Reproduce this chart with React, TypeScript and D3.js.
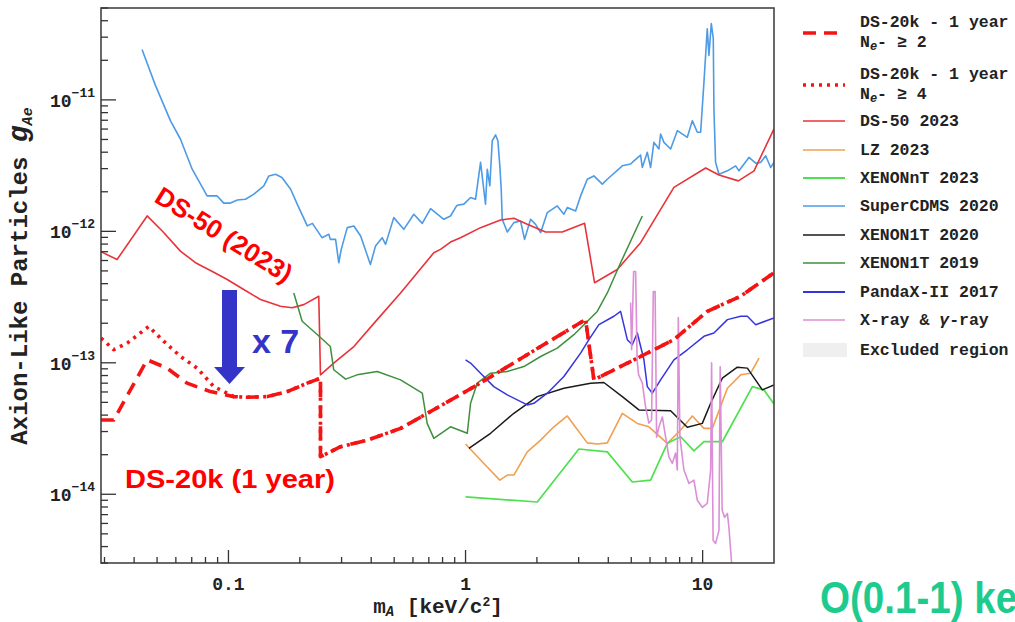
import React from 'react';
import * as d3 from 'd3';

type Pt = [number, number];

// ---------- axis ticks ----------
const xTickValues = [0.1, 1, 10];
const xTickLabels = ['0.1', '1', '10'];
const yTickExponents = [-11, -12, -13, -14];

// ---------- series (m_A [keV], g_Ae) ----------
const ds20kNe2: Pt[] = [
  [0.029, 3.67e-14], [0.0328, 3.67e-14], [0.0454, 1.054e-13], [0.0551, 9.11e-14], [0.0669, 7.0e-14],
  [0.0839, 6.04e-14], [0.1053, 5.53e-14], [0.12, 5.47e-14], [0.1456, 5.53e-14], [0.1769, 6.04e-14],
  [0.215, 7.0e-14], [0.2444, 7.64e-14], [0.2444, 1.93e-14], [0.297, 2.3e-14], [0.385, 2.58e-14],
  [0.532, 3.17e-14], [0.784, 4.7e-14], [1.084, 6.56e-14], [1.5, 9.32e-14], [2.073, 1.33e-13],
  [3.209, 2.13e-13], [3.478, 7.42e-14], [3.962, 8.34e-14], [5.475, 1.117e-13], [7.566, 1.5e-13],
  [10.46, 2.46e-13], [14.47, 3.21e-13], [20, 4.84e-13],
];

const ds20kNe4: Pt[] = [
  [0.029, 1.54e-13], [0.0328, 1.26e-13], [0.0374, 1.41e-13], [0.0461, 1.89e-13], [0.0533, 1.46e-13],
  [0.0627, 1.12e-13], [0.0738, 9.1e-14], [0.0867, 6.6e-14], [0.1053, 5.53e-14], [0.12, 5.47e-14],
  [0.1456, 5.53e-14], [0.1769, 6.04e-14], [0.215, 7.0e-14], [0.2444, 7.64e-14], [0.2444, 1.93e-14],
  [0.297, 2.3e-14], [0.385, 2.58e-14], [0.532, 3.17e-14], [0.784, 4.7e-14], [1.084, 6.56e-14],
  [1.5, 9.32e-14], [2.073, 1.33e-13], [3.209, 2.13e-13], [3.478, 7.42e-14], [3.962, 8.34e-14],
  [5.475, 1.117e-13], [7.566, 1.5e-13], [10.46, 2.46e-13], [14.47, 3.21e-13], [20, 4.84e-13],
];

const ds50: Pt[] = [
  [0.029, 7.0e-13], [0.0339, 6.1e-13], [0.0454, 1.31e-12], [0.0533, 9.8e-13], [0.0627, 7.07e-13],
  [0.0726, 5.77e-13], [0.0867, 4.89e-13], [0.0988, 4.3e-13], [0.116, 3.61e-13], [0.1365, 3.03e-13],
  [0.1657, 2.69e-13], [0.1857, 2.62e-13], [0.2078, 2.77e-13], [0.2404, 3.21e-13], [0.2444, 8.1e-14],
  [0.278, 9.95e-14], [0.338, 1.33e-13], [0.424, 2.13e-13], [0.532, 3.4e-13], [0.735, 6.88e-13],
  [0.784, 7.29e-13], [0.864, 8.29e-13], [0.952, 8.95e-13], [1.157, 1.067e-12], [1.405, 1.22e-12],
  [1.599, 1.257e-12], [1.821, 1.131e-12], [2.176, 9.88e-13], [2.559, 9.88e-13], [3.178, 1.15e-12],
  [3.502, 4.06e-13], [4.366, 5.13e-13], [5.475, 8.2e-13], [7.566, 2.16e-12], [10.3, 3.03e-12],
  [11.72, 2.68e-12], [14.15, 2.42e-12], [16.47, 2.886e-12], [20, 6.01e-12],
];

const lz2023: Pt[] = [
  [1.0, 2.41e-14], [1.195, 1.715e-14], [1.395, 1.28e-14], [1.5, 1.4e-14], [1.599, 1.4e-14],
  [1.821, 2.1e-14], [2.073, 2.58e-14], [2.359, 3.26e-14], [2.686, 3.94e-14], [2.864, 3.36e-14],
  [3.262, 2.46e-14], [3.594, 2.41e-14], [3.962, 2.46e-14], [4.584, 4.13e-14], [5.303, 3.46e-14],
  [5.934, 3.26e-14], [7.097, 2.44e-14], [8.076, 3.08e-14], [9.047, 3.94e-14], [10.13, 3.17e-14],
  [10.99, 3.17e-14], [12.72, 6.41e-14], [14.47, 8.1e-14], [15.94, 8.34e-14], [17.29, 1.086e-13],
];

const xenonNT2023: Pt[] = [
  [1.0, 9.54e-15], [2.007, 8.73e-15], [3.006, 2.21e-14], [3.962, 2.1e-14], [5.05, 1.24e-14],
  [6.034, 1.28e-14], [7.097, 2.44e-14], [8.076, 2.74e-14], [9.19, 2.14e-14], [10.13, 2.51e-14],
  [12.11, 2.51e-14], [16.21, 6.59e-14], [18.14, 6.22e-14], [20, 4.86e-14],
];

const superCDMS2020: Pt[] = [
  [0.0432, 2.42e-11], [0.0492, 1.29e-11], [0.0569, 6.95e-12], [0.0627, 5.04e-12], [0.0703, 2.97e-12],
  [0.0813, 1.86e-12], [0.0896, 1.86e-12], [0.0955, 1.64e-12], [0.102, 1.64e-12], [0.109, 1.73e-12],
  [0.118, 1.755e-12], [0.128, 1.92e-12], [0.141, 2.22e-12], [0.148, 2.64e-12], [0.158, 2.72e-12],
  [0.168, 2.57e-12], [0.183, 2.09e-12], [0.195, 1.61e-12], [0.215, 1.1e-12], [0.226, 1.15e-12],
  [0.248, 8.95e-13], [0.265, 9.49e-13], [0.269, 8.69e-13], [0.283, 8.69e-13], [0.292, 5.77e-13],
  [0.299, 7.29e-13], [0.317, 1.067e-12], [0.338, 1.098e-12], [0.361, 9.21e-13], [0.397, 5.6e-13],
  [0.417, 7.72e-13], [0.445, 8.95e-13], [0.46, 7.96e-13], [0.498, 1.272e-12], [0.549, 1.036e-12],
  [0.605, 1.349e-12], [0.657, 1.15e-12], [0.712, 1.49e-12], [0.81, 1.235e-12], [0.864, 1.309e-12],
  [0.907, 1.517e-12], [0.923, 1.58e-12], [0.984, 1.61e-12], [1.05, 1.808e-12], [1.102, 1.755e-12],
  [1.157, 3.345e-12], [1.214, 1.61e-12], [1.235, 2.97e-12], [1.266, 2.22e-12], [1.296, 4.89e-12],
  [1.339, 5.41e-12], [1.369, 4.89e-12], [1.395, 3.15e-12], [1.414, 2.09e-12], [1.428, 1.235e-12],
  [1.5, 9.88e-13], [1.599, 1.165e-12], [1.706, 1.198e-12], [1.774, 8.69e-13], [1.881, 1.235e-12],
  [1.974, 1.131e-12], [2.073, 9.77e-13], [2.212, 1.389e-12], [2.437, 1.56e-12], [2.599, 1.349e-12],
  [2.686, 1.517e-12], [2.912, 1.429e-12], [3.057, 1.86e-12], [3.262, 2.49e-12], [3.478, 2.64e-12],
  [3.774, 2.285e-12], [3.962, 2.49e-12], [4.584, 3.15e-12], [4.968, 3.25e-12], [5.13, 3.44e-12],
  [5.475, 3.8e-12], [5.566, 3.06e-12], [5.843, 3.99e-12], [6.034, 3.06e-12], [6.23, 4.75e-12],
  [6.54, 4.23e-12], [6.649, 5.5e-12], [6.866, 4.75e-12], [7.328, 4.23e-12], [7.821, 5.83e-12],
  [8.617, 5.19e-12], [9.047, 6.95e-12], [9.497, 5.67e-12], [9.808, 5.67e-12], [10.13, 1.365e-11],
  [10.46, 3.48e-11], [10.63, 2.18e-11], [10.88, 3.8e-11], [11.09, 2.92e-11], [11.16, 8.54e-12],
  [11.34, 3.345e-12], [11.72, 2.72e-12], [12.72, 2.886e-12], [13.78, 3.15e-12], [14.23, 2.886e-12],
  [15.68, 3.65e-12], [16.74, 3.3e-12], [17.57, 3.345e-12], [18.45, 3.76e-12], [19.36, 3.06e-12],
  [20, 3.345e-12],
];

const xenon1T2020: Pt[] = [
  [1.033, 2.23e-14], [1.275, 2.91e-14], [1.599, 4.13e-14], [2.007, 5.53e-14], [2.599, 6.41e-14],
  [3.368, 7.0e-14], [3.832, 7.08e-14], [4.584, 5.53e-14], [5.385, 4.38e-14], [7.328, 4.32e-14],
  [8.617, 3.23e-14], [9.97, 3.46e-14], [10.81, 4.92e-14], [12.11, 7.64e-14], [14.01, 9.27e-14],
  [15.44, 9.11e-14], [17.86, 6.22e-14], [20, 6.79e-14],
];

const xenon1T2019: Pt[] = [
  [0.1886, 3.4e-13], [0.2046, 2.07e-13], [0.2367, 1.64e-13], [0.269, 1.33e-13], [0.278, 8.85e-14],
  [0.312, 7.51e-14], [0.349, 8.1e-14], [0.424, 8.58e-14], [0.532, 7.42e-14], [0.657, 5.87e-14],
  [0.689, 3.46e-14], [0.735, 2.66e-14], [0.864, 3.26e-14], [1.017, 2.91e-14], [1.05, 4.92e-14],
  [1.12, 7.0e-14], [1.275, 8.34e-14], [1.5, 8.58e-14], [1.762, 9.37e-14], [2.073, 1.117e-13],
  [2.437, 1.295e-13], [2.864, 1.636e-13], [3.594, 2.46e-13], [3.962, 3.4e-13], [4.508, 5.77e-13],
  [5.566, 1.309e-12],
];

const pandaX2017: Pt[] = [
  [1.0, 1.054e-13], [1.05, 9.95e-14], [1.157, 8.34e-14], [1.316, 6.59e-14], [1.5, 5.7e-14],
  [1.821, 4.78e-14], [1.942, 4.92e-14], [2.212, 5.87e-14], [2.599, 7.86e-14], [3.057, 1.186e-13],
  [3.314, 1.5e-13], [3.651, 1.95e-13], [4.224, 2.26e-13], [4.508, 2.46e-13], [4.812, 1.5e-13],
  [5.05, 1.372e-13], [5.303, 1.685e-13], [5.654, 1.054e-13], [5.843, 6.59e-14], [6.134, 5.87e-14],
  [6.649, 7.42e-14], [7.566, 1.054e-13], [8.617, 1.256e-13], [10.13, 1.59e-13], [11.16, 1.685e-13],
  [12.72, 2.13e-13], [14.47, 2.26e-13], [15.44, 2.26e-13], [16.74, 1.95e-13], [20, 2.19e-13],
];

const xrayGamma: Pt[] = [
  [4.968, 2.87e-13], [5.017, 1.26e-13], [5.116, 4.95e-13], [5.216, 4.95e-13], [5.293, 1.05e-13],
  [5.37, 8.1e-14], [5.566, 7.04e-14], [5.747, 4.61e-14], [5.934, 3.48e-14], [6.091, 3.67e-14],
  [6.194, 3.48e-13], [6.303, 3.48e-13], [6.395, 2.72e-14], [6.54, 3.25e-14], [6.761, 3.87e-14],
  [6.981, 2.72e-14], [7.209, 1.92e-14], [7.451, 1.72e-14], [7.693, 2.06e-14], [7.821, 1.53e-14],
  [7.897, 2.21e-13], [8.02, 2.72e-14], [8.339, 1.53e-14], [8.754, 1.21e-14], [9.19, 1.28e-14],
  [9.497, 9.0e-15], [9.97, 7.96e-15], [10.46, 8.54e-15], [10.81, 1.53e-14], [10.91, 1.0e-13],
  [11.07, 4.46e-15], [11.34, 4.23e-15], [11.72, 5.31e-15], [11.86, 9.32e-14], [12.09, 7.55e-15],
  [12.38, 6.67e-15], [12.72, 7.16e-15], [12.91, 5.6e-15], [13.35, 2.5e-15],
];

// ---------- layout ----------
const W = 1015;
const H = 622;
const PL = 101, PR = 774, PT = 8, PB = 563;
const MONO = '"Liberation Mono", "DejaVu Sans Mono", monospace';
const SANS = '"Liberation Sans", Arial, sans-serif';

const C = {
  ds20k: '#f41414',
  ds50: '#e8333a',
  lz: '#f0a050',
  xnt: '#4ee04e',
  scdms: '#4d9be6',
  x1t20: '#1a1a1a',
  x1t19: '#3f8f3f',
  pandax: '#3535e0',
  xray: '#dc8fd6',
  excl: '#efefef',
};

function interpLog(data: Pt[], m: number, extendRight: boolean): number | null {
  const n = data.length;
  if (m < data[0][0]) return null;
  if (m > data[n - 1][0]) return extendRight ? data[n - 1][1] : null;
  for (let i = 0; i < n - 1; i++) {
    const [x0, y0] = data[i];
    const [x1, y1] = data[i + 1];
    if (x1 > x0 && m >= x0 && m <= x1) {
      const t = (Math.log(m) - Math.log(x0)) / (Math.log(x1) - Math.log(x0));
      return Math.exp(Math.log(y0) + t * (Math.log(y1) - Math.log(y0)));
    }
  }
  return data[n - 1][1];
}

export default function App() {
  const x = d3.scaleLog().domain([0.029, 20]).range([PL, PR]);
  const y = d3.scaleLog().domain([3e-15, 5e-11]).range([PB, PT]);
  const line = d3.line<Pt>().x((d) => x(d[0])).y((d) => y(d[1]));

  // excluded region: above the lowest existing limit
  const existing: [Pt[], boolean][] = [
    [ds50, false], [lz2023, false], [xenonNT2023, false], [superCDMS2020, false],
    [xenon1T2020, false], [xenon1T2019, false], [pandaX2017, false], [xrayGamma, true],
  ];
  const env: [number, number][] = [];
  for (let px = PL; px <= PR + 0.001; px += 0.25) {
    const m = x.invert(px);
    let best = Infinity;
    for (const [d, ext] of existing) {
      const v = interpLog(d, m, ext);
      if (v !== null && v < best) best = v;
    }
    const py = Math.max(PT, Math.min(PB, y(best)));
    env.push([px, py]);
  }
  const exclPath =
    `M${PL},${PT}` + env.map((p) => `L${p[0]},${p[1]}`).join('') + `L${PR},${PT}Z`;

  // ticks
  const xMinor: number[] = [];
  [0.01, 0.1, 1, 10].forEach((k) => {
    for (let j = 2; j <= 9; j++) {
      const v = j * k;
      if (v > 0.029 && v < 20) xMinor.push(v);
    }
  });
  const yMinor: number[] = [];
  [1e-15, 1e-14, 1e-13, 1e-12, 1e-11].forEach((k) => {
    for (let j = 2; j <= 9; j++) {
      const v = j * k;
      if (v > 3e-15 && v < 5e-11) yMinor.push(v);
    }
  });

  const series: { data: Pt[]; color: string; w: number; dash?: string }[] = [
    { data: superCDMS2020, color: C.scdms, w: 1.6 },
    { data: ds50, color: C.ds50, w: 1.6 },
    { data: xenon1T2019, color: C.x1t19, w: 1.5 },
    { data: lz2023, color: C.lz, w: 1.6 },
    { data: xenonNT2023, color: C.xnt, w: 1.7 },
    { data: xenon1T2020, color: C.x1t20, w: 1.5 },
    { data: pandaX2017, color: C.pandax, w: 1.5 },
    { data: xrayGamma, color: C.xray, w: 1.6 },
    { data: ds20kNe4, color: C.ds20k, w: 3.6, dash: '3 5' },
    { data: ds20kNe2, color: C.ds20k, w: 3.6, dash: '13 8' },
  ];

  const legendItems: { key: string; color: string; w: number; dash?: string; box?: boolean }[] = [
    { key: 'ne2', color: C.ds20k, w: 3.6, dash: '13 8' },
    { key: 'ne4', color: C.ds20k, w: 3.6, dash: '3 5' },
    { key: 'DS-50 2023', color: C.ds50, w: 1.6 },
    { key: 'LZ 2023', color: C.lz, w: 1.6 },
    { key: 'XENONnT 2023', color: C.xnt, w: 1.8 },
    { key: 'SuperCDMS 2020', color: C.scdms, w: 1.6 },
    { key: 'XENON1T 2020', color: C.x1t20, w: 1.5 },
    { key: 'XENON1T 2019', color: C.x1t19, w: 1.5 },
    { key: 'PandaX-II 2017', color: C.pandax, w: 1.8 },
    { key: 'xray', color: C.xray, w: 1.6 },
    { key: 'Excluded region', color: C.excl, w: 0, box: true },
  ];
  const legendY = [33, 85, 121, 150, 178, 206, 235, 263, 292, 320, 350];

  const legendText = (key: string, ly: number) => {
    const common = { x: 860, fontFamily: MONO, fontSize: 16.5, fontWeight: 700, fill: '#222' } as const;
    if (key === 'ne2' || key === 'ne4') {
      return (
        <g>
          <text {...common} y={ly - 6}>DS-20k - 1 year</text>
          <text {...common} y={ly + 14}>
            N<tspan fontSize={12} fontStyle="italic" dy={3}>e</tspan>
            <tspan dy={-3}>- ≥ {key === 'ne2' ? '2' : '4'}</tspan>
          </text>
        </g>
      );
    }
    if (key === 'xray') {
      return (
        <text {...common} y={ly + 5}>
          X-ray &amp; <tspan fontStyle="italic">γ</tspan>-ray
        </text>
      );
    }
    return <text {...common} y={ly + 5}>{key}</text>;
  };

  return (
    <svg
      width={W}
      height={H}
      viewBox={`0 0 ${W} ${H}`}
      style={{ position: 'absolute', left: 0, top: 0, background: '#fff' }}
    >
      <defs>
        <clipPath id="plotClip">
          <rect x={PL} y={PT} width={PR - PL} height={PB - PT} />
        </clipPath>
      </defs>
      <rect x={0} y={0} width={W} height={H} fill="#fff" />
      <rect x={PL} y={PT} width={PR - PL} height={PB - PT} fill="#fff" />
      <path d={exclPath} fill={C.excl} stroke="none" clipPath="url(#plotClip)" />

      <g clipPath="url(#plotClip)" fill="none" strokeLinejoin="round">
        {series.map((s, i) => (
          <path
            key={i}
            d={line(s.data) || ''}
            stroke={s.color}
            strokeWidth={s.w}
            strokeDasharray={s.dash}
          />
        ))}
      </g>

      {/* frame */}
      <rect x={PL} y={PT} width={PR - PL} height={PB - PT} fill="none" stroke="#444" strokeWidth={1.6} />

      {/* ticks */}
      <g stroke="#333" strokeWidth={1.3}>
        {xTickValues.map((v) => (
          <line key={'xM' + v} x1={x(v)} x2={x(v)} y1={PB} y2={PB - 13} />
        ))}
        {xMinor.map((v) => (
          <line key={'xm' + v} x1={x(v)} x2={x(v)} y1={PB} y2={PB - 6} />
        ))}
        {yTickExponents.map((e) => (
          <line key={'yM' + e} x1={PL} x2={PL + 15} y1={y(Math.pow(10, e))} y2={y(Math.pow(10, e))} />
        ))}
        {yMinor.map((v) => (
          <line key={'ym' + v} x1={PL} x2={PL + 7} y1={y(v)} y2={y(v)} />
        ))}
      </g>
      {xTickValues.map((v, i) => (
        <text
          key={'xl' + v}
          x={x(v)}
          y={590}
          textAnchor="middle"
          fontFamily={MONO}
          fontSize={18}
          fontWeight={700}
          fill="#222"
        >
          {xTickLabels[i]}
        </text>
      ))}
      {yTickExponents.map((e) => (
        <text
          key={'yl' + e}
          x={95}
          y={y(Math.pow(10, e)) + 7}
          textAnchor="end"
          fontFamily={MONO}
          fontWeight={700}
          fontSize={18}
          fill="#222"
        >
          10<tspan fontSize={13} dy={-10}>{'\u2212' + String(-e)}</tspan>
        </text>
      ))}

      {/* axis titles */}
      <text x={438} y={613} textAnchor="middle" fontFamily={MONO} fontSize={21} fontWeight={700} fill="#222">
        m<tspan fontSize={14} fontStyle="italic" dy={3}>A</tspan>
        <tspan dy={-3}> [keV/c</tspan>
        <tspan fontSize={13} dy={-7}>2</tspan>
        <tspan dy={7}>]</tspan>
      </text>
      <text
        transform="translate(27,276) rotate(-90)"
        textAnchor="middle"
        fontFamily={MONO}
        fontSize={24}
        fontWeight={700}
        fill="#222"
      >
        Axion-Like Particles <tspan fontStyle="italic" fontSize={28}>g</tspan>
        <tspan fontSize={15} fontStyle="italic" dy={5}>Ae</tspan>
      </text>

      {/* annotations */}
      <text
        transform="translate(153,201) rotate(32)"
        fontFamily={SANS}
        fontWeight={700}
        fontSize={26}
        fill="#ff0000"
      >
        DS-50 (2023)
      </text>
      <rect x={222} y={290} width={15} height={80} fill="#3434c8" />
      <polygon points="214,367 245,367 229.5,384" fill="#3434c8" />
      <text x={252} y={353} fontFamily={SANS} fontWeight={700} fontSize={34} fill="#3434c8">
        x 7
      </text>
      <text
        x={125}
        y={488}
        fontFamily={SANS}
        fontWeight={700}
        fontSize={26}
        fill="#ff0000"
        textLength={210}
        lengthAdjust="spacingAndGlyphs"
      >
        DS-20k (1 year)
      </text>

      {/* legend */}
      {legendItems.map((it, i) => {
        const ly = legendY[i];
        return (
          <g key={it.key}>
            {it.box ? (
              <rect x={803} y={ly - 7} width={44} height={14} fill={it.color} />
            ) : (
              <line
                x1={803}
                x2={845}
                y1={ly}
                y2={ly}
                stroke={it.color}
                strokeWidth={it.w}
                strokeDasharray={it.dash}
              />
            )}
            {legendText(it.key, ly)}
          </g>
        );
      })}

      <text
        x={820}
        y={613}
        fontFamily={SANS}
        fontWeight={700}
        fontSize={44}
        fill="#1ecb8e"
        textLength={223}
        lengthAdjust="spacingAndGlyphs"
      >
        O(0.1-1) keV
      </text>
    </svg>
  );
}
